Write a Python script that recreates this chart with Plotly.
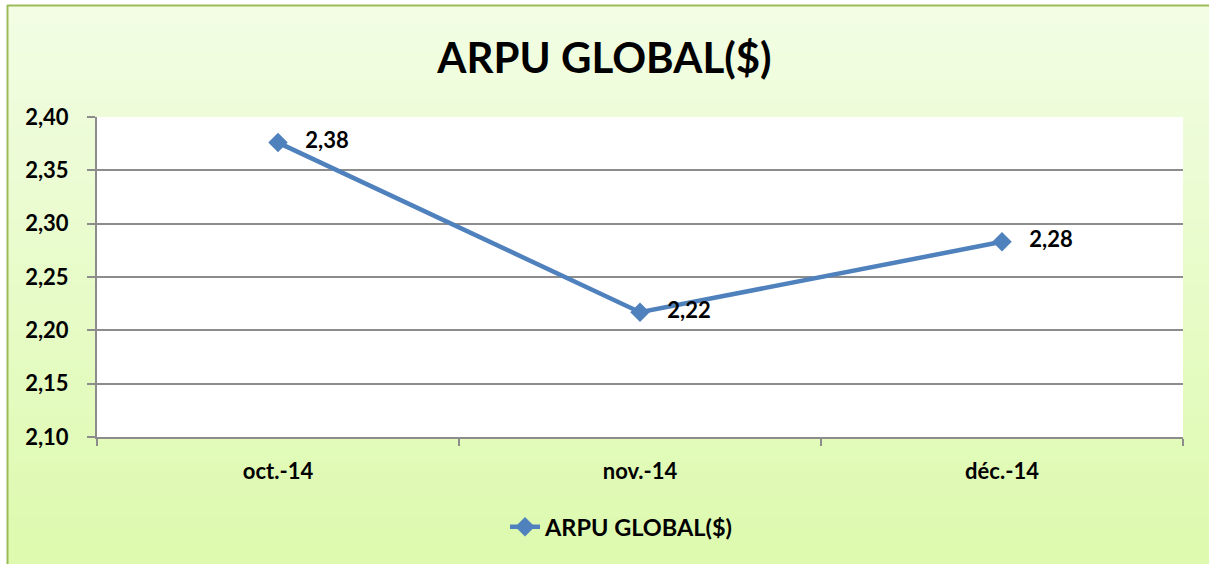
import plotly.graph_objects as go

months = ["oct.-14", "nov.-14", "déc.-14"]
arpu = [2.376, 2.217, 2.283]
series_name = "ARPU GLOBAL($)"
title_text = "ARPU GLOBAL($)"

W, H = 1209, 564
L, R, T, B = 97, 26, 117, 127
pw, ph = W - L - R, H - T - B

def px_x(x):
    return (x - L) / pw

def px_y(y):
    return (H - B - y) / ph

FONT = "Lato"
BLUE = "#4F81BD"
GRID = "#8c8c8c"

fig = go.Figure()
fig.add_trace(go.Scatter(
    x=months, y=arpu, name="<b>%s</b>" % series_name, mode="lines+markers+text",
    line=dict(color=BLUE, width=4.5),
    marker=dict(symbol="diamond", size=15, color=BLUE),
    texttemplate="   <b>%{y:.2f}</b>", textposition="middle right",
    textfont=dict(family=FONT, size=22, color="black"),
    cliponaxis=False,
))

shapes = []
top_c = (242, 253, 228)
bot_c = (221, 250, 174)
y0, y1 = 5, H
n = 60
for i in range(n):
    ya = y0 + (y1 - y0) * i / n
    yb = y0 + (y1 - y0) * (i + 1) / n + 1
    t = i / (n - 1)
    c = tuple(round(top_c[k] + (bot_c[k] - top_c[k]) * t) for k in range(3))
    shapes.append(dict(type="rect", xref="paper", yref="paper", layer="below",
                       x0=px_x(7), x1=px_x(W + 5), y0=px_y(ya), y1=px_y(yb),
                       fillcolor="rgb(%d,%d,%d)" % c, line=dict(width=0)))
shapes.append(dict(type="line", xref="paper", yref="paper", layer="below",
                   x0=px_x(7), x1=px_x(W + 5), y0=px_y(5.5), y1=px_y(5.5),
                   line=dict(color="#9BBB59", width=2)))
shapes.append(dict(type="line", xref="paper", yref="paper", layer="below",
                   x0=px_x(7.5), x1=px_x(7.5), y0=px_y(5), y1=px_y(H + 5),
                   line=dict(color="#9BBB59", width=2)))
shapes.append(dict(type="rect", xref="paper", yref="paper", layer="below",
                   x0=0, x1=1, y0=0, y1=1, fillcolor="white", line=dict(width=0)))

fig.update_layout(
    width=W, height=H,
    margin=dict(l=L, r=R, t=T, b=B),
    paper_bgcolor="white", plot_bgcolor="white",
    separators=",.",
    shapes=shapes,
    title=dict(text="<b>%s</b>" % title_text, x=0.5, xanchor="center",
               y=1 - 58 / H, yanchor="middle",
               font=dict(family=FONT, size=42, color="black")),
    font=dict(family=FONT, size=22, color="black"),
    showlegend=True,
    legend=dict(orientation="h", x=px_x(622), xanchor="center",
                y=px_y(527), yanchor="middle",
                font=dict(family=FONT, size=23.5, color="black"),
                bgcolor="rgba(0,0,0,0)"),
    xaxis=dict(showgrid=False, tickson="boundaries", ticks="outside", ticklen=7,
               range=[-0.5, 2.5], ticklabelstandoff=14,
               tickcolor=GRID, tickwidth=2, showline=True, linecolor=GRID, linewidth=2,
               tickfont=dict(family=FONT, size=22, color="black"),
               tickprefix="<b>", ticksuffix="</b>", zeroline=False),
    yaxis=dict(range=[2.10, 2.40], dtick=0.05, tickformat=".2f",
               showgrid=True, gridcolor=GRID, gridwidth=2,
               ticks="outside", ticklen=8, tickcolor=GRID, tickwidth=2,
               ticklabelstandoff=14,
               showline=True, linecolor=GRID, linewidth=2,
               tickfont=dict(family=FONT, size=22, color="black"),
               tickprefix="<b>", ticksuffix="</b>", zeroline=False),
)

fig.write_html("out.html", config={"displayModeBar": False},
               post_script="document.body.style.margin='0';"
                           "document.body.style.overflow='hidden';"
                           "document.documentElement.style.overflow='hidden';")
